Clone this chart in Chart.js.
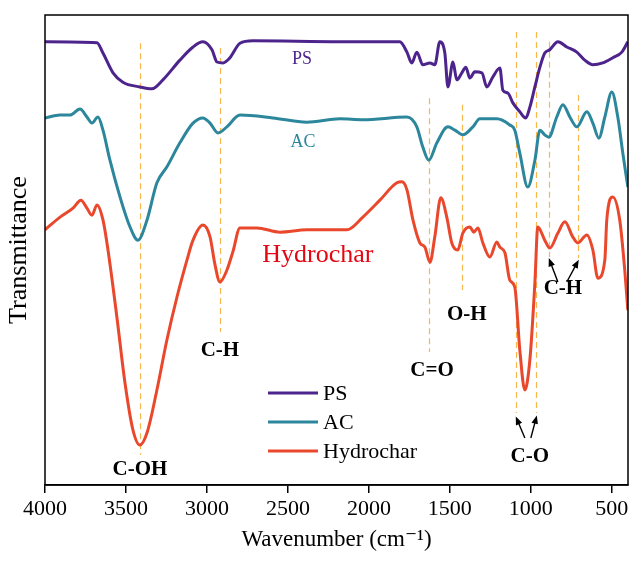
<!DOCTYPE html>
<html>
<head>
<meta charset="utf-8">
<title>FTIR spectra</title>
<script src="https://cdn.jsdelivr.net/npm/chart.js@4.4.1/dist/chart.umd.min.js"></script>
<style>
  html, body { margin: 0; padding: 0; background: #fff; }
  canvas { display: block; }
</style>
</head>
<body>
<canvas id="ftir" width="632" height="562"></canvas>
<script>
// wavenumber (cm-1) and transmittance (arbitrary, offset per sample)
const psWave = [4000, 3679, 3642, 3580, 3519, 3414, 3340, 3272, 3167, 3086, 3025, 2969, 2938, 2901, 2858, 2796, 2716,
  2179, 1809, 1765, 1735, 1704, 1667, 1623, 1593, 1562, 1531, 1512, 1481, 1457, 1426, 1401, 1377, 1346, 1302,
  1272, 1235, 1191, 1173, 1142, 1111, 1068, 1031, 1006, 975, 944, 914, 883, 833, 778, 716, 667, 617, 556, 494, 438, 401];
const psT = [94.3, 94.1, 91.9, 87.7, 85.7, 84.7, 84.3, 86.2, 90.4, 93.2, 94.3, 92.6, 90.0, 89.8, 90.9, 94.0, 94.5,
  94.3, 94.3, 92.1, 89.8, 92.1, 89.4, 89.8, 89.4, 94.3, 91.9, 84.7, 90.0, 86.2, 87.7, 88.9, 86.6, 87.9, 87.7,
  84.7, 86.8, 88.7, 84.0, 83.4, 81.3, 79.4, 78.1, 80.4, 84.7, 88.9, 91.9, 92.6, 94.3, 93.2, 92.1, 90.4, 89.4, 89.8, 90.9, 92.1, 94.3];

const acWave = [4000, 3907, 3846, 3784, 3741, 3710, 3673, 3642, 3599, 3537, 3475, 3426, 3370, 3309, 3247, 3167,
  3086, 3025, 2981, 2932, 2877, 2796, 2593, 2383, 2179, 2037, 1765, 1704, 1667, 1630, 1580, 1512, 1469, 1420,
  1358, 1315, 1210, 1130, 1099, 1068, 1019, 975, 944, 914, 889, 840, 802, 759, 716, 654, 617, 580, 543, 500, 463, 432, 401];
const acT = [78.1, 78.7, 78.7, 80.0, 78.3, 77.0, 78.3, 75.5, 69.1, 61.3, 54.9, 52.1, 56.4, 64.3, 67.7, 72.8,
  77.0, 78.1, 77.0, 74.9, 76.2, 78.7, 78.1, 77.2, 77.9, 77.7, 78.3, 76.2, 71.9, 69.1, 72.8, 76.2, 75.5, 74.5,
  76.2, 77.9, 77.9, 76.6, 75.5, 70.6, 63.4, 69.1, 75.5, 74.5, 74.0, 78.3, 80.9, 78.3, 76.2, 79.4, 77.0, 73.8, 78.3, 83.6, 78.3, 70.6, 63.4];

const charWave = [4000, 3907, 3827, 3778, 3741, 3710, 3679, 3642, 3611, 3556, 3506, 3457, 3414, 3370, 3309, 3247,
  3185, 3123, 3086, 3025, 2981, 2951, 2920, 2877, 2840, 2796, 2691, 2549, 2383, 2136, 2037, 1932, 1827, 1796,
  1765, 1728, 1685, 1654, 1623, 1593, 1556, 1519, 1488, 1451, 1420, 1377, 1352, 1327, 1296, 1253, 1210, 1191,
  1160, 1130, 1099, 1068, 1037, 1006, 975, 957, 914, 883, 833, 790, 741, 710, 654, 617, 586, 543, 531, 494, 451, 420, 401];
const charT = [54.3, 57.0, 58.9, 60.6, 58.9, 57.4, 59.6, 56.4, 50.0, 35.7, 21.7, 11.7, 8.5, 11.1, 20.2, 30.9,
  40.0, 47.9, 52.1, 55.3, 52.8, 47.0, 43.2, 45.7, 49.6, 54.7, 54.7, 53.8, 54.3, 54.3, 57.0, 60.6, 64.3, 64.5,
  62.8, 56.4, 51.5, 50.6, 47.4, 52.8, 61.1, 57.0, 51.5, 50.0, 53.6, 54.9, 53.8, 54.7, 51.5, 48.5, 51.7, 50.6,
  49.4, 43.6, 42.1, 28.7, 20.2, 26.6, 43.0, 54.9, 52.1, 50.4, 53.6, 56.0, 52.8, 51.5, 53.2, 50.0, 44.0, 47.9, 56.4, 61.3, 56.4, 45.7, 37.2];

const tickValues = [4000, 3500, 3000, 2500, 2000, 1500, 1000, 500];

// band assignments: dashed guide lines, labels and arrows (data coordinates)
const guides = [
  { x: 3414, from: 94.0, to: 6.4 },
  { x: 2920, from: 93.0, to: 32.6 },
  { x: 1630, from: 82.3, to: 28.3 },
  { x: 1426, from: 80.9, to: 41.5 },
  { x: 1093, from: 96.4, to: 15.3 },
  { x: 970, from: 96.4, to: 15.3 },
  { x: 889, from: 94.3, to: 48.5 },
  { x: 710, from: 83.0, to: 48.3 }
];
const bandLabels = [
  { text: 'C-OH', x: 3414, y: 3.2 },
  { text: 'C-H', x: 2920, y: 28.7 },
  { text: 'C=O', x: 1610, y: 24.3 },
  { text: 'O-H', x: 1395, y: 36.2 },
  { text: 'C-O', x: 1006, y: 6.0 },
  { text: 'C-H', x: 802, y: 41.7 }
];
const arrows = [
  { x0: 1037, y0: 10.0, x1: 1093, y1: 14.6 },
  { x0: 1000, y0: 10.0, x1: 963, y1: 14.8 },
  { x0: 833, y0: 43.2, x1: 889, y1: 48.3 },
  { x0: 778, y0: 43.2, x1: 704, y1: 47.9 }
];
const seriesTags = [
  { text: 'PS', x: 2413, y: 90.6, size: 18, color: '#4c248c' },
  { text: 'AC', x: 2407, y: 73.0, size: 18, color: '#2c869c' },
  { text: 'Hydrochar', x: 2315, y: 48.9, size: 26, color: '#e30613' }
];

const FONT = "'Liberation Serif', 'Times New Roman', 'DejaVu Serif', serif";

function zip(xs, ys) {
  return xs.map((x, i) => ({ x: x, y: ys[i] }));
}

function series(label, xs, ys, color) {
  return {
    label: label,
    data: zip(xs, ys),
    borderColor: color,
    backgroundColor: color,
    borderWidth: 3,
    pointRadius: 0,
    cubicInterpolationMode: 'monotone',
    fill: false
  };
}

const ftirDecor = {
  id: 'ftirDecor',
  beforeDatasetsDraw(chart) {
    const { ctx, scales: { x, y } } = chart;
    ctx.save();
    ctx.strokeStyle = '#f8b64c';
    ctx.lineWidth = 1.2;
    ctx.setLineDash([6, 4]);
    guides.forEach(g => {
      const px = Math.round(x.getPixelForValue(g.x)) + 0.5;
      ctx.beginPath();
      ctx.moveTo(px, y.getPixelForValue(g.from));
      ctx.lineTo(px, y.getPixelForValue(g.to));
      ctx.stroke();
    });
    ctx.restore();
  },
  afterDatasetsDraw(chart) {
    const { ctx, chartArea: area, scales: { x, y } } = chart;
    ctx.save();
    ctx.textAlign = 'center';
    ctx.textBaseline = 'middle';

    seriesTags.forEach(t => {
      ctx.font = t.size + 'px ' + FONT;
      ctx.fillStyle = t.color;
      ctx.fillText(t.text, x.getPixelForValue(t.x), y.getPixelForValue(t.y));
    });

    ctx.font = 'bold 21px ' + FONT;
    ctx.fillStyle = '#000';
    bandLabels.forEach(b => {
      ctx.fillText(b.text, x.getPixelForValue(b.x), y.getPixelForValue(b.y));
    });

    // arrows pointing at the C-O and C-H guides
    ctx.strokeStyle = '#000';
    ctx.lineWidth = 1.4;
    arrows.forEach(a => {
      const x0 = x.getPixelForValue(a.x0), y0 = y.getPixelForValue(a.y0);
      const x1 = x.getPixelForValue(a.x1), y1 = y.getPixelForValue(a.y1);
      const ang = Math.atan2(y1 - y0, x1 - x0);
      const head = 9;
      ctx.beginPath();
      ctx.moveTo(x0, y0);
      ctx.lineTo(x1 - Math.cos(ang) * head * 0.8, y1 - Math.sin(ang) * head * 0.8);
      ctx.stroke();
      ctx.beginPath();
      ctx.moveTo(x1, y1);
      ctx.lineTo(x1 - head * Math.cos(ang - 0.38), y1 - head * Math.sin(ang - 0.38));
      ctx.lineTo(x1 - head * Math.cos(ang + 0.38), y1 - head * Math.sin(ang + 0.38));
      ctx.closePath();
      ctx.fill();
    });

    // legend inside the plot
    ctx.textAlign = 'left';
    ctx.font = '22px ' + FONT;
    const lx = area.left + 223;
    chart.data.datasets.forEach((ds, i) => {
      const ly = area.top + 378 + i * 29;
      ctx.strokeStyle = ds.borderColor;
      ctx.lineWidth = 3;
      ctx.beginPath();
      ctx.moveTo(lx, ly);
      ctx.lineTo(lx + 50, ly);
      ctx.stroke();
      ctx.fillStyle = '#000';
      ctx.fillText(ds.label, lx + 55, ly + 1);
    });

    // frame
    ctx.strokeStyle = '#000';
    ctx.lineWidth = 1.5;
    ctx.strokeRect(area.left, area.top, area.right - area.left, area.bottom - area.top);
    ctx.restore();
  }
};

new Chart(document.getElementById('ftir'), {
  type: 'line',
  data: {
    datasets: [
      series('PS', psWave, psT, '#4c248c'),
      series('AC', acWave, acT, '#2c869c'),
      series('Hydrochar', charWave, charT, '#ea482c')
    ]
  },
  options: {
    responsive: false,
    animation: false,
    events: [],
    layout: { padding: { top: 15, right: 4, left: 0, bottom: 0 } },
    plugins: {
      legend: { display: false },
      tooltip: { enabled: false }
    },
    scales: {
      x: {
        type: 'linear',
        reverse: true,
        min: 400,
        max: 4000,
        afterBuildTicks: s => { s.ticks = tickValues.map(v => ({ value: v })); },
        afterFit: s => { s.height = 77; s.paddingLeft = 0; s.paddingRight = 0; },
        ticks: {
          color: '#000',
          font: { family: FONT, size: 22 },
          padding: 3,
          maxRotation: 0,
          autoSkip: false,
          callback: v => String(v)
        },
        grid: { drawOnChartArea: false, tickLength: 8, color: '#000', lineWidth: 1.5 },
        border: { display: true, color: '#000', width: 1.5 },
        title: {
          display: true,
          text: 'Wavenumber (cm\u207B\u00B9)',
          color: '#000',
          font: { family: FONT, size: 23 },
          padding: { top: 0, bottom: 8 }
        }
      },
      y: {
        min: 0,
        max: 100,
        afterFit: s => { s.width = 45; },
        ticks: { display: false },
        grid: { display: false },
        border: { display: false },
        title: {
          display: true,
          text: 'Transmittance',
          color: '#000',
          font: { family: FONT, size: 26 },
          padding: { top: 4, bottom: 0 }
        }
      }
    }
  },
  plugins: [ftirDecor]
});
</script>
</body>
</html>
